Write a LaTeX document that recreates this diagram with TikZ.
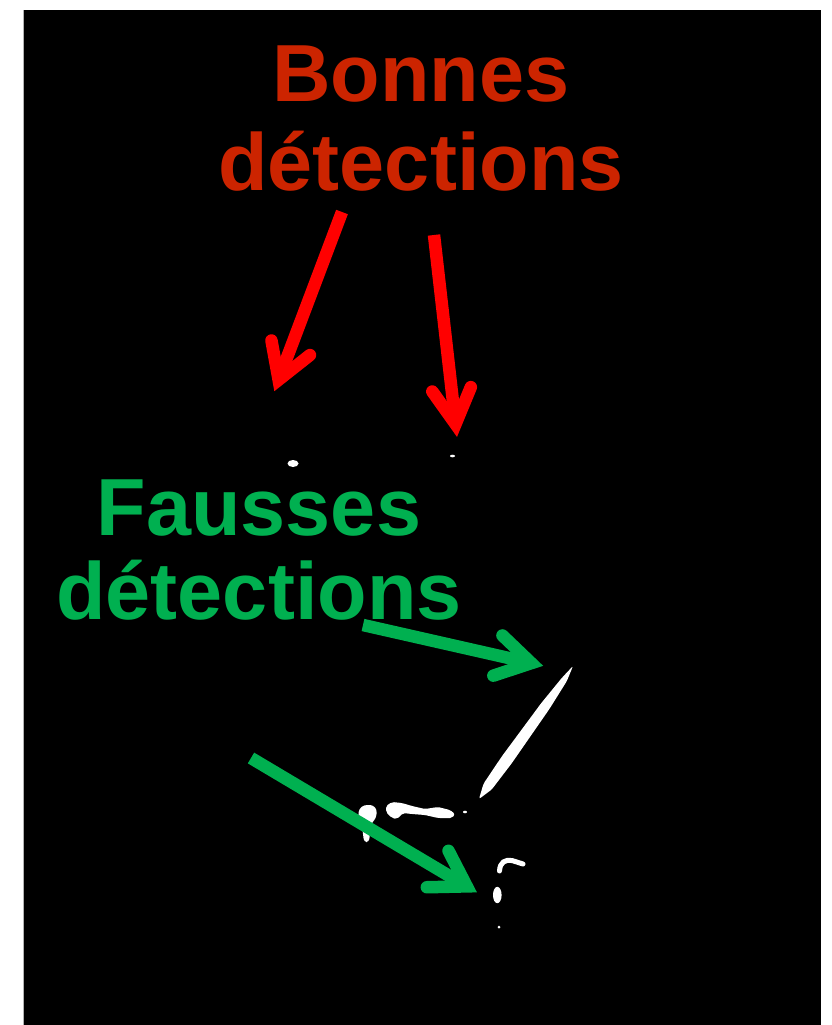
\documentclass[tikz,border=0pt]{standalone}
\usepackage{fontspec}
\setmainfont{Liberation Sans}
\usetikzlibrary{calc}
\definecolor{txtred}{RGB}{204,36,0}
\definecolor{arrred}{RGB}{255,0,0}
\definecolor{pptgreen}{RGB}{0,176,80}
\newcommand{\annarrow}[4]{% color, start, tip, half-angle
  \coordinate (#3v) at ($(#3)!13pt!(#2)$);
  \draw[shaft, #1] (#2) -- (#3v);
  \draw[barbs, #1] ($(#3v)!40pt!#4:(#2)$) -- (#3v) -- ($(#3v)!40pt!-#4:(#2)$);
}
\begin{document}
\begin{tikzpicture}[x=1pt,y=-1pt,
  redlabel/.style={font=\fontsize{81}{89}\selectfont\bfseries, text=txtred, align=center, inner sep=0pt, anchor=base},
  greenlabel/.style={font=\fontsize{81}{84}\selectfont\bfseries, text=pptgreen, align=center, inner sep=0pt, anchor=base},
  shaft/.style={line width=12.5pt, line cap=butt},
  barbs/.style={line width=12.5pt, line cap=round, line join=miter},
  speck/.style={fill=white, draw=none}]
\useasboundingbox (0,0) rectangle (832,1025);
\fill[black] (24,10) rectangle (821,1025);
\draw[gray!60, line width=0.8pt] (23.6,10) -- (23.6,1025);

% white detections
\fill[speck] (293,463.5) ellipse [x radius=5.5, y radius=3.5];
\fill[speck] (452.5,456) ellipse [x radius=2.5, y radius=1.3];
\fill[speck, rounded corners=2pt] (573,666) -- (566.8,681.1) -- (549.3,709.1) -- (530.5,736.2) -- (511.7,763.3) -- (491.7,789.5) -- (479,799) -- (483.5,783.7) -- (501.9,756.3) -- (521.5,729.8) -- (541.1,703.3) -- (562.0,677.7) -- cycle;
\fill[speck, rounded corners=3pt] (359,809) -- (364,805) -- (373,805) -- (377,810) -- (376,818) -- (371,824) -- (369,842) -- (364,842) -- (362,826) -- (358,820) -- cycle;
\fill[speck, rounded corners=2pt] (386,806) -- (392,802) -- (402,803) -- (412,806) -- (425,809) -- (438,807) -- (450,810) -- (455,814) -- (452,818) -- (438,818) -- (425,815) -- (412,814) -- (403,813) -- (397,819) -- (392,818) -- (386,812) -- cycle;
\fill[speck] (465,812) ellipse [x radius=2, y radius=1.3];
\draw[white, line width=5pt, line cap=round] (499.5,871) .. controls (500,862) and (505,859.5) .. (512,860.5) -- (523,864);
\fill[speck] (497.3,895) ellipse [x radius=4.3, y radius=8.2];
\fill[speck] (499,927) circle [radius=1.5];

% labels (base anchor = baseline of the last line)
\node[redlabel] (bonnes) at (421,190) {Bonnes\\détections};
\node[greenlabel] (fausses) at (259,619) {Fausses\\détections};

% arrows
\coordinate (r1s) at (342,212);
\coordinate (r1t) at (274,392);
\coordinate (r2s) at (434,235);
\coordinate (r2t) at (457,437);
\coordinate (g1s) at (363,625);
\coordinate (g1t) at (544,666);
\coordinate (g2s) at (251,758);
\coordinate (g2t) at (478,893);
\annarrow{arrred}{r1s}{r1t}{31}
\annarrow{arrred}{r2s}{r2t}{29}
\annarrow{pptgreen}{g1s}{g1t}{31}
\annarrow{pptgreen}{g2s}{g2t}{32}
\end{tikzpicture}
\end{document}
